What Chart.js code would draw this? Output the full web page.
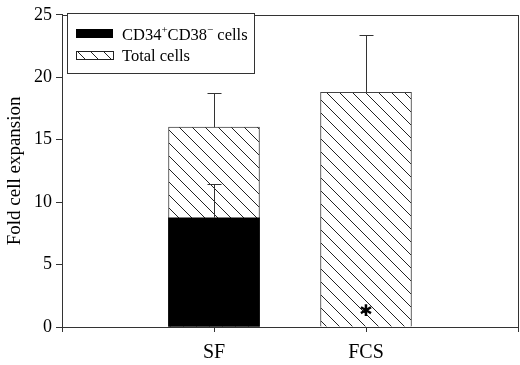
<!DOCTYPE html>
<html>
<head>
<meta charset="utf-8">
<script src="https://cdn.jsdelivr.net/npm/chart.js@4.4.0/dist/chart.umd.min.js"></script>
<style>
  html, body { margin: 0; padding: 0; background: #fff; }
  #wrap { width: 520px; height: 365px; }
</style>
</head>
<body>
<div id="wrap"><canvas id="myChart"></canvas></div>
<script>
// data
const categories = ['', 'SF', 'FCS', ''];
const cd34Values = [null, 8.75, null, null];
const cd34Errors = [null, 2.7, null, null];
const totalValues = [null, 16.0, 18.8, null];
const totalErrors = [null, 2.7, 4.6, null];
const yTicks = [0, 5, 10, 15, 20, 25];
const legendLabels = ['CD34|+|CD38|\u2212| cells', 'Total cells'];
const markers = [null, null, '\u2731', null]; // asterisk on FCS bar

const serif = '"Liberation Serif", "Times New Roman", serif';
const axisColor = '#333';

// hatch pattern for total cells
function makeHatch() {
  const s = 13;
  const c = document.createElement('canvas');
  c.width = s; c.height = s;
  const g = c.getContext('2d');
  g.fillStyle = '#fff';
  g.fillRect(0, 0, s, s);
  g.strokeStyle = '#222';
  g.lineWidth = 1;
  g.beginPath();
  g.moveTo(0, 0); g.lineTo(s, s);
  g.moveTo(-s / 2, s / 2); g.lineTo(s / 2, s * 1.5);
  g.moveTo(s / 2, -s / 2); g.lineTo(s * 1.5, s / 2);
  g.stroke();
  return g.createPattern(c, 'repeat');
}
const hatch = makeHatch();

// error bars (upper whisker only) + asterisk + frame + legend
const extrasPlugin = {
  id: 'extras',
  afterDatasetsDraw(chart) {
    const ctx = chart.ctx;
    const x = chart.scales.x, y = chart.scales.y;
    const area = chart.chartArea;
    ctx.save();
    ctx.strokeStyle = axisColor;
    ctx.lineWidth = 1;
    const sets = [[cd34Values, cd34Errors], [totalValues, totalErrors]];
    sets.forEach(([vals, errs]) => {
      vals.forEach((v, i) => {
        if (v == null || errs[i] == null) return;
        const px = Math.round(x.getPixelForValue(i)) + 0.5;
        const y0 = y.getPixelForValue(v);
        const y1 = Math.round(y.getPixelForValue(v + errs[i])) + 0.5;
        ctx.beginPath();
        ctx.moveTo(px, y0); ctx.lineTo(px, y1);
        ctx.moveTo(px - 7, y1); ctx.lineTo(px + 7, y1);
        ctx.stroke();
      });
    });
    // marker text
    ctx.fillStyle = '#000';
    ctx.font = '16px "DejaVu Sans", sans-serif';
    ctx.textAlign = 'center';
    ctx.textBaseline = 'middle';
    markers.forEach((m, i) => {
      if (!m) return;
      ctx.fillText(m, x.getPixelForValue(i), y.getPixelForValue(0) - 15);
    });
    // frame around plot
    ctx.strokeStyle = axisColor;
    ctx.strokeRect(Math.round(area.left) + 0.5, Math.round(area.top) + 0.5,
      Math.round(area.right - area.left), Math.round(area.bottom - area.top));
    // legend box
    const lx = 67, ly = 13, lw = 187, lh = 60;
    ctx.fillStyle = '#fff';
    ctx.fillRect(lx, ly, lw, lh);
    ctx.strokeRect(lx + 0.5, ly + 0.5, lw, lh);
    ctx.fillStyle = '#000';
    ctx.fillRect(76, 29, 37, 9);
    ctx.fillStyle = hatch;
    ctx.fillRect(76, 51, 37, 8);
    ctx.strokeStyle = '#222';
    ctx.strokeRect(76.5, 51.5, 37, 8);
    ctx.fillStyle = '#000';
    ctx.textAlign = 'left';
    ctx.textBaseline = 'alphabetic';
    legendLabels.forEach((lab, k) => {
      let tx = 122;
      const ty = k === 0 ? 40 : 61;
      lab.split('|').forEach((part, j) => {
        const sup = j % 2 === 1;
        ctx.font = (sup ? '11px ' : '16.5px ') + serif;
        ctx.fillText(part, tx, sup ? ty - 7 : ty);
        tx += ctx.measureText(part).width;
      });
    });
    ctx.restore();
  }
};

const ctx = document.getElementById('myChart').getContext('2d');
const chart = new Chart(ctx, {
  type: 'bar',
  data: {
    labels: categories,
    datasets: [{
      label: 'CD34+CD38- cells',
      data: cd34Values,
      backgroundColor: '#000',
      borderColor: '#000',
      borderWidth: 0,
      barThickness: 91
    }, {
      label: 'Total cells',
      data: totalValues,
      backgroundColor: hatch,
      borderColor: '#444',
      borderWidth: 1,
      barThickness: 91
    }]
  },
  options: {
    responsive: true,
    maintainAspectRatio: false,
    animation: false,
    layout: { padding: { top: 7, right: 2, left: 0, bottom: 0 } },
    plugins: {
      legend: { display: false },
      tooltip: { enabled: false }
    },
    scales: {
      x: {
        stacked: true,
        offset: false,
        border: { color: axisColor, width: 1 },
        grid: {
          offset: false,
          drawOnChartArea: false,
          tickLength: 5,
          color: axisColor
        },
        ticks: {
          color: '#000',
          font: { family: serif, size: 20 },
          padding: 9,
          maxRotation: 0
        },
        afterFit(s) {
          s.height = 38;
          s.paddingLeft = 0;
          s.paddingRight = 0;
        }
      },
      y: {
        stacked: false,
        min: 0,
        max: 25,
        afterBuildTicks(s) { s.ticks = yTicks.map(v => ({ value: v })); },
        border: { color: axisColor, width: 1 },
        grid: { drawOnChartArea: false, tickLength: 6, color: axisColor },
        ticks: {
          color: '#000',
          font: { family: serif, size: 18 },
          padding: 4
        },
        title: {
          display: true,
          text: 'Fold cell expansion',
          color: '#000',
          font: { family: serif, size: 19 },
          padding: { top: 4, bottom: 4 }
        },
        afterFit(s) { s.width = 62; }
      }
    }
  },
  plugins: [extrasPlugin]
});
</script>
</body>
</html>
